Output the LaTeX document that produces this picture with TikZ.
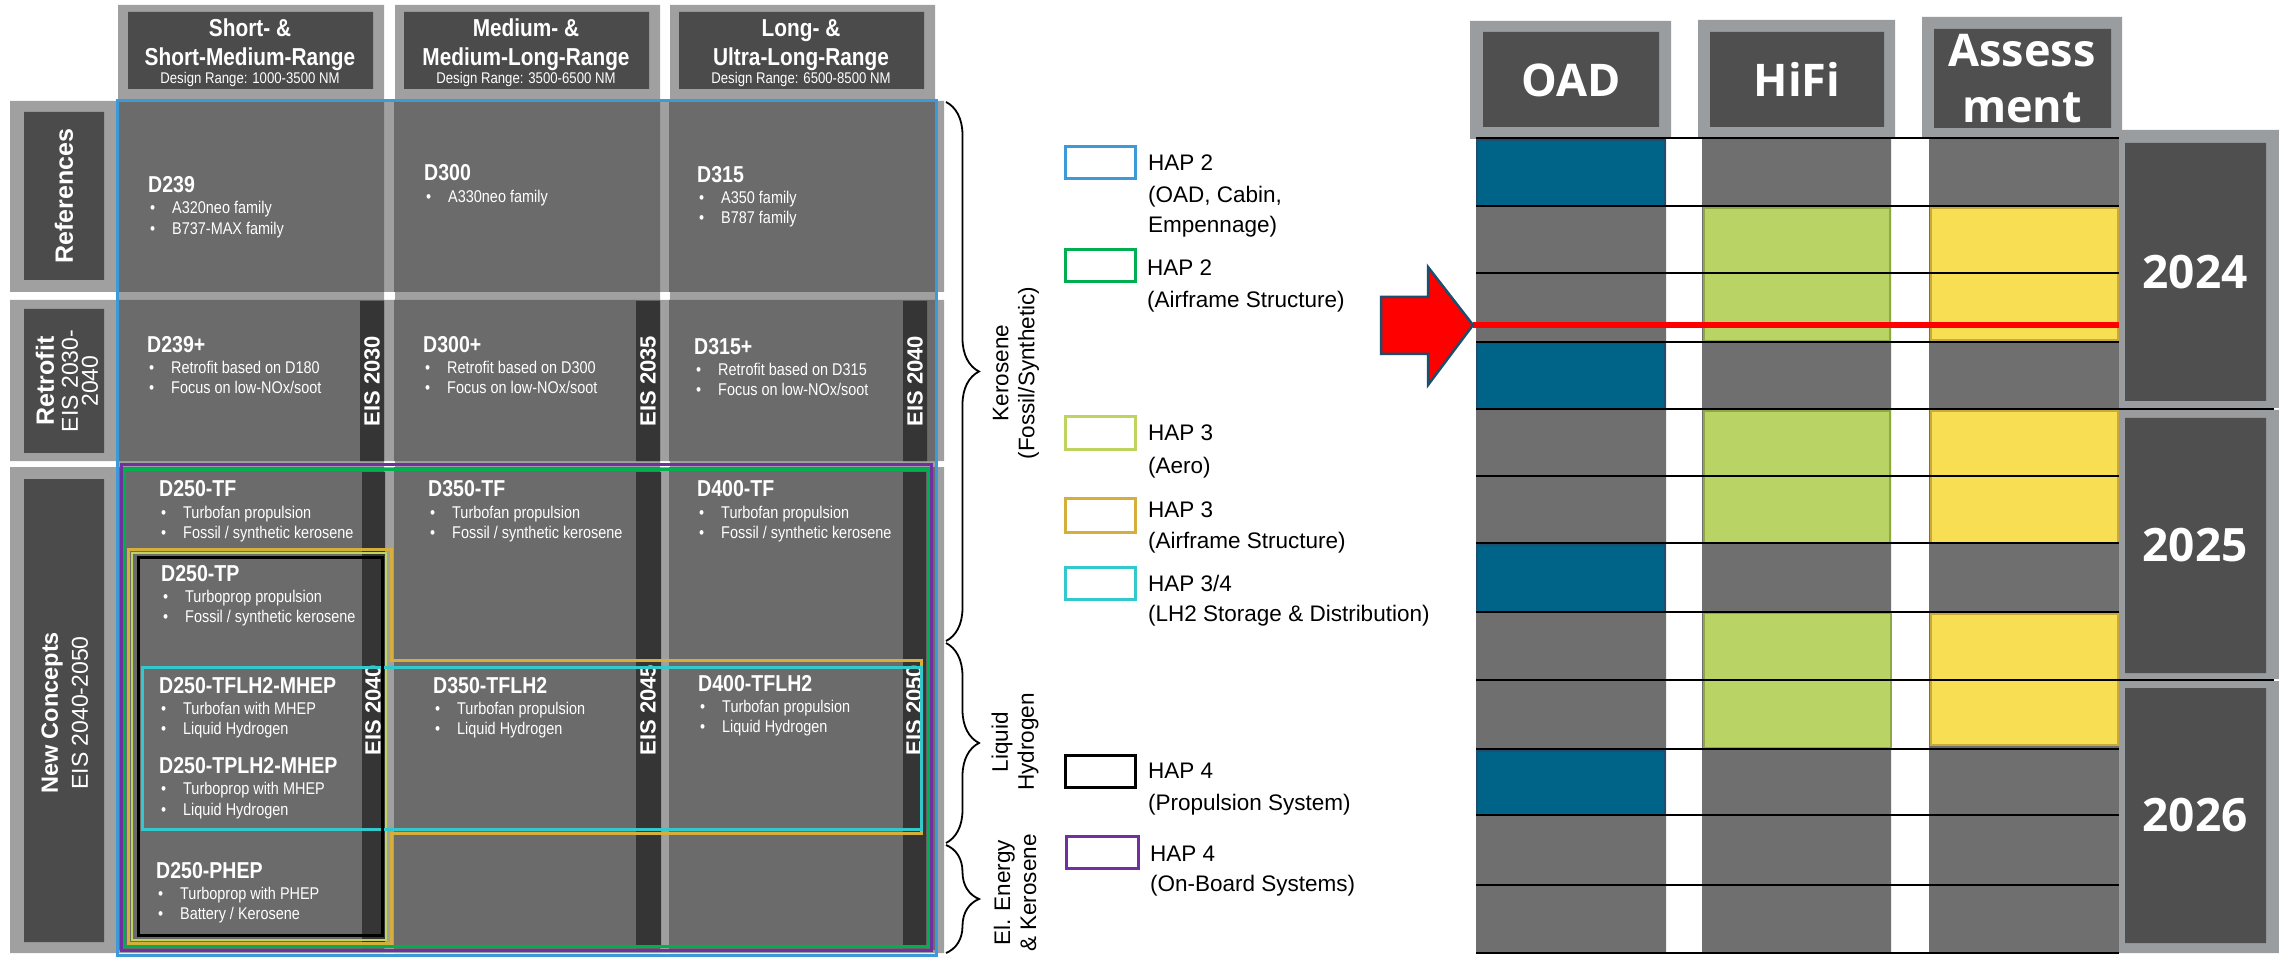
\documentclass[tikz,border=0pt]{standalone}
\usepackage{fontspec}
\setmainfont{Liberation Sans}
\newfontfamily\narrowfont[FakeStretch=0.85]{Liberation Sans}
\newfontfamily\osfont{Open Sans}
\usetikzlibrary{decorations.pathreplacing}
\definecolor{framegray}{HTML}{A0A0A0}
\definecolor{cellgray}{HTML}{6B6B6B}
\definecolor{labelgray}{HTML}{4B4B4B}
\definecolor{barblack}{HTML}{353535}
\definecolor{rframe}{HTML}{9A9DA0}
\definecolor{rinner}{HTML}{4F4F4F}
\definecolor{rcell}{HTML}{6F6F6F}
\definecolor{oadblue}{HTML}{006489}
\definecolor{oadedge}{HTML}{1F4E6E}
\definecolor{hifigreen}{HTML}{B9D364}
\definecolor{hifiedge}{HTML}{8FA845}
\definecolor{assyellow}{HTML}{F7DE52}
\definecolor{assedge}{HTML}{C8AA3C}
\definecolor{hapblue}{HTML}{3D9AD8}
\definecolor{hapgreen}{HTML}{00B050}
\definecolor{happurple}{HTML}{7030A0}
\definecolor{hapgold}{HTML}{D6AE3C}
\definecolor{haplime}{HTML}{BDD45E}
\definecolor{hapcyan}{HTML}{33C9CC}
\definecolor{arrowedge}{HTML}{1A4F6E}
\newcommand\mkttl[4]{\node[celltitle] (#1) at (#2,#3) {#4};}
\newcommand\mkitm[4]{\node[cellbullet] (#1-dot) at (#2+2,#3) {•};\node[cellbullet] (#1) at (#2+24,#3) {#4};}
\begin{document}
\begin{tikzpicture}[x=1pt,y=-1pt,
  celltitle/.style={anchor=base west,inner sep=0pt,text=white,font=\narrowfont\bfseries\fontsize{23}{26}\selectfont},
  cellbullet/.style={anchor=base west,inner sep=0pt,text=white,font=\narrowfont\fontsize{17}{20}\selectfont},
  colhead/.style={anchor=base,inner sep=0pt,text=white,font=\narrowfont\bfseries\fontsize{24.5}{29}\selectfont},
  colsub/.style={anchor=base,inner sep=0pt,text=white,font=\narrowfont\fontsize{15.5}{19}\selectfont},
  rowlabel/.style={rotate=90,inner sep=0pt,text=white,font=\bfseries\fontsize{25}{29}\selectfont},
  rowsub/.style={rotate=90,inner sep=0pt,text=white,font=\fontsize{23}{27}\selectfont},
  eistext/.style={rotate=90,inner sep=0pt,text=white,font=\bfseries\fontsize{22}{26}\selectfont},
  bracetext/.style={rotate=90,align=center,inner sep=0pt,font=\fontsize{22.5}{26}\selectfont},
  legtext/.style={anchor=base west,inner sep=0pt,font=\fontsize{22.5}{27}\selectfont},
  legbox/.style={line width=3pt},
  hapline/.style={line width=3pt},
  rhead/.style={inner sep=0pt,text=white,font=\osfont\bfseries\fontsize{45}{56}\selectfont},
  yeartext/.style={inner sep=0pt,text=white,font=\osfont\bfseries\fontsize{46}{52}\selectfont},
  gridline/.style={line width=1.5pt,black},
  bracestyle/.style={decorate,decoration={brace,amplitude=33pt},line width=1.8pt}
]
\useasboundingbox[fill=white] (0,0) rectangle (2279,957);
% ---------- left table frames
\fill[framegray] (118,5) rectangle (384,953) (395,5) rectangle (660,953) (670,5) rectangle (935,953);
\fill[framegray] (10,101) rectangle (944,292) (10,300) rectangle (944,461) (10,467) rectangle (944,953);
\fill[labelgray] (128,12) rectangle (373,89) (404,12) rectangle (649,89) (679,12) rectangle (924,89);
\fill[cellgray] (118,101) rectangle (384,292) (394,101) rectangle (660,292) (669,101) rectangle (935,292);
\fill[cellgray] (118,300) rectangle (384,461) (394,300) rectangle (660,461) (669,300) rectangle (935,461);
\fill[cellgray] (118,467) rectangle (384,950) (394,467) rectangle (660,950) (669,467) rectangle (935,950);
\fill[labelgray] (24,112) rectangle (104,280) (24,309) rectangle (104,453) (24,479) rectangle (104,942);
% column headers
\node[colhead] (h1a) at (250,37) {Short- \&};
\node[colhead] (h1b) at (250,66) {Short-Medium-Range};
\node[colsub]  (h1c) at (250,84) {Design Range: 1000-3500 NM};
\node[colhead] (h2a) at (526,37) {Medium- \&};
\node[colhead] (h2b) at (526,66) {Medium-Long-Range};
\node[colsub]  (h2c) at (526,84) {Design Range: 3500-6500 NM};
\node[colhead] (h3a) at (801,37) {Long- \&};
\node[colhead] (h3b) at (801,66) {Ultra-Long-Range};
\node[colsub]  (h3c) at (801,84) {Design Range: 6500-8500 NM};
% row labels
\node[rowlabel] (lref) at (64,196) {References};
\node[rowlabel] (lret) at (45,381) {Retrofit};
\node[rowsub] (lret2) at (70,381) {EIS 2030-};
\node[rowsub] (lret3) at (90,381) {2040};
\node[rowlabel,font=\bfseries\fontsize{23.5}{28}\selectfont] (lnew) at (52,713) {New Concepts};
\node[rowsub] (lnew2) at (80,713) {EIS 2040-2050};
% EIS bars
\fill[barblack] (360,301) rectangle (384,461) (636,301) rectangle (660,461) (903,301) rectangle (927,461);
\fill[barblack] (362,472) rectangle (385,948) (636,472) rectangle (661,948) (903,472) rectangle (926,948);
\node[eistext] (e1) at (372,381) {EIS 2030};
\node[eistext] (e2) at (648,381) {EIS 2035};
\node[eistext] (e3) at (915,381) {EIS 2040};
\node[eistext] (e4) at (373,710) {EIS 2040};
\node[eistext] (e5) at (648,710) {EIS 2045};
\node[eistext] (e6) at (914,710) {EIS 2050};
% cell texts
\mkttl{d239}{148}{193}{D239}
\mkitm{d239a}{148}{214}{A320neo family}
\mkitm{d239b}{148}{235}{B737-MAX family}
\mkttl{d300}{424}{181}{D300}
\mkitm{d300a}{424}{203}{A330neo family}
\mkttl{d315}{697}{183}{D315}
\mkitm{d315a}{697}{204}{A350 family}
\mkitm{d315b}{697}{224}{B787 family}
\mkttl{d239p}{147}{353}{D239+}
\mkitm{d239pa}{147}{374}{Retrofit based on D180}
\mkitm{d239pb}{147}{394}{Focus on low-NOx/soot}
\mkttl{d300p}{423}{353}{D300+}
\mkitm{d300pa}{423}{374}{Retrofit based on D300}
\mkitm{d300pb}{423}{394}{Focus on low-NOx/soot}
\mkttl{d315p}{694}{355}{D315+}
\mkitm{d315pa}{694}{376}{Retrofit based on D315}
\mkitm{d315pb}{694}{396}{Focus on low-NOx/soot}
\mkttl{d250tf}{159}{496}{D250-TF}
\mkitm{d250tfa}{159}{518}{Turbofan propulsion}
\mkitm{d250tfb}{159}{538}{Fossil / synthetic kerosene}
\mkttl{d350tf}{428}{496}{D350-TF}
\mkitm{d350tfa}{428}{518}{Turbofan propulsion}
\mkitm{d350tfb}{428}{538}{Fossil / synthetic kerosene}
\mkttl{d400tf}{697}{496}{D400-TF}
\mkitm{d400tfa}{697}{518}{Turbofan propulsion}
\mkitm{d400tfb}{697}{538}{Fossil / synthetic kerosene}
\mkttl{d250tp}{161}{581}{D250-TP}
\mkitm{d250tpa}{161}{602}{Turboprop propulsion}
\mkitm{d250tpb}{161}{622}{Fossil / synthetic kerosene}
\mkttl{d250tfh}{159}{693}{D250-TFLH2-MHEP}
\mkitm{d250tfha}{159}{714}{Turbofan with MHEP}
\mkitm{d250tfhb}{159}{734}{Liquid Hydrogen}
\mkttl{d350tfh}{433}{693}{D350-TFLH2}
\mkitm{d350tfha}{433}{714}{Turbofan propulsion}
\mkitm{d350tfhb}{433}{734}{Liquid Hydrogen}
\mkttl{d400tfh}{698}{691}{D400-TFLH2}
\mkitm{d400tfha}{698}{712}{Turbofan propulsion}
\mkitm{d400tfhb}{698}{732}{Liquid Hydrogen}
\mkttl{d250tph}{159}{773}{D250-TPLH2-MHEP}
\mkitm{d250tpha}{159}{794}{Turboprop with MHEP}
\mkitm{d250tphb}{159}{815}{Liquid Hydrogen}
\mkttl{d250ph}{156}{878}{D250-PHEP}
\mkitm{d250pha}{156}{899}{Turboprop with PHEP}
\mkitm{d250phb}{156}{919}{Battery / Kerosene}
% HAP outlines
\draw[hapline,hapblue] (117,101) rectangle (936,955);
\draw[hapline,happurple] (121,464) rectangle (931,950);
\draw[hapline,hapgreen] (124,469) rectangle (928,946);
\draw[hapline,hapgold] (128,549) -- (391,549) -- (391,660) -- (921,660) -- (921,833) -- (391,833) -- (391,943) -- (128,943) -- cycle;
\draw[line width=2.5pt,haplime] (132,553) rectangle (386,940);
\draw[hapline,hapcyan] (142,667) rectangle (921,829);
\draw[hapline,black] (138,557) rectangle (382,935);
% braces
\coordinate (bk1) at (946,102); \coordinate (bk2) at (946,641);
\coordinate (bl1) at (946,643); \coordinate (bl2) at (946,843);
\coordinate (be1) at (946,845); \coordinate (be2) at (946,953);
\draw[bracestyle] (bk1) -- (bk2);
\draw[bracestyle] (bl1) -- (bl2);
\draw[bracestyle] (be1) -- (be2);
\node[bracetext] (tk) at (1016,373) {Kerosene\\(Fossil/Synthetic)};
\node[bracetext] (tl) at (1015,742) {Liquid\\Hydrogen};
\node[bracetext] (te) at (1015,893) {El. Energy\\\& Kerosene};
% legend
\draw[legbox,hapblue] (1065,147) rectangle (1135,179);
\node[legtext] (g1a) at (1148,171) {HAP 2};
\node[legtext] (g1b) at (1148,203) {(OAD, Cabin,};
\node[legtext] (g1c) at (1148,233) {Empennage)};
\draw[legbox,hapgreen] (1065,250) rectangle (1135,282);
\node[legtext] (g2a) at (1147,276) {HAP 2};
\node[legtext] (g2b) at (1147,308) {(Airframe Structure)};
\draw[legbox,haplime] (1065,417) rectangle (1135,450);
\node[legtext] (g3a) at (1148,441) {HAP 3};
\node[legtext] (g3b) at (1148,473) {(Aero)};
\draw[legbox,hapgold] (1065,498) rectangle (1135,532);
\node[legtext] (g4a) at (1148,517) {HAP 3};
\node[legtext] (g4b) at (1148,548) {(Airframe Structure)};
\draw[legbox,hapcyan] (1065,567) rectangle (1135,599);
\node[legtext] (g5a) at (1148,591) {HAP 3/4};
\node[legtext] (g5b) at (1148,621) {(LH2 Storage \& Distribution)};
\draw[legbox,black] (1065,755) rectangle (1135,787);
\node[legtext] (g6a) at (1148,778) {HAP 4};
\node[legtext] (g6b) at (1148,810) {(Propulsion System)};
\draw[legbox,happurple] (1066,836) rectangle (1138,868);
\node[legtext] (g7a) at (1150,861) {HAP 4};
\node[legtext] (g7b) at (1150,891) {(On-Board Systems)};
% ---------- right panel
\fill[rframe] (1470,21) rectangle (1671,139) (1698,20) rectangle (1895,137) (1922,17) rectangle (2122,138);
\fill[rinner] (1483,32) rectangle (1659,127) (1710,32) rectangle (1884,127) (1934,29) rectangle (2111,128);
\node[rhead] (oad) at (1571,80) {OAD};
\node[rhead] (hifi) at (1797,79) {HiFi};
\node[rhead,anchor=base] (ass1) at (2022,67) {Assess};
\node[rhead,anchor=base] (ass2) at (2022,123) {ment};
\fill[rcell] (1476,138) rectangle (1666,953) (1702,138) rectangle (1891,953) (1929,138) rectangle (2119,953);
\filldraw[fill=oadblue,draw=oadedge,line width=1.5pt] (1477,140) rectangle (1665,206) (1477,343) rectangle (1665,409) (1477,545) rectangle (1665,612) (1477,751) rectangle (1665,815);
\filldraw[fill=hifigreen,draw=hifiedge,line width=1.5pt] (1704,208) rectangle (1890,341) (1704,411) rectangle (1890,543) (1704,613) rectangle (1891,748);
\filldraw[fill=assyellow,draw=assedge,line width=1.5pt] (1931,208) rectangle (2118,340) (1931,411) rectangle (2118,543) (1931,614) rectangle (2118,745);
\foreach \yy in {138,206,273,342,476,543,612,749,815,885,953} {\draw[gridline] (1476,\yy) -- (2119,\yy);}
\fill[rframe] (2119,130) rectangle (2279,408) (2119,410) rectangle (2279,679) (2119,681) rectangle (2279,953);
\fill[rinner] (2125,143) rectangle (2266,401) (2125,418) rectangle (2266,673) (2125,688) rectangle (2266,943);
\foreach \yy in {409,680} {\draw[gridline] (1476,\yy) -- (2274,\yy);}
\node[yeartext] (y24) at (2195,272) {2024};
\node[yeartext] (y25) at (2195,545) {2025};
\node[yeartext] (y26) at (2195,815) {2026};
% arrow and line
\coordinate (tip) at (1473,325);
\coordinate (lineend) at (2119,325);
\draw[red,line width=6pt] (tip) -- (lineend);
\filldraw[fill=red,draw=arrowedge,line width=2.5pt,line join=miter] (1381,297) -- (1428,297) -- (1428,267) -- (tip) -- (1428,385) -- (1428,354) -- (1381,354) -- cycle;
\end{tikzpicture}
\end{document}
